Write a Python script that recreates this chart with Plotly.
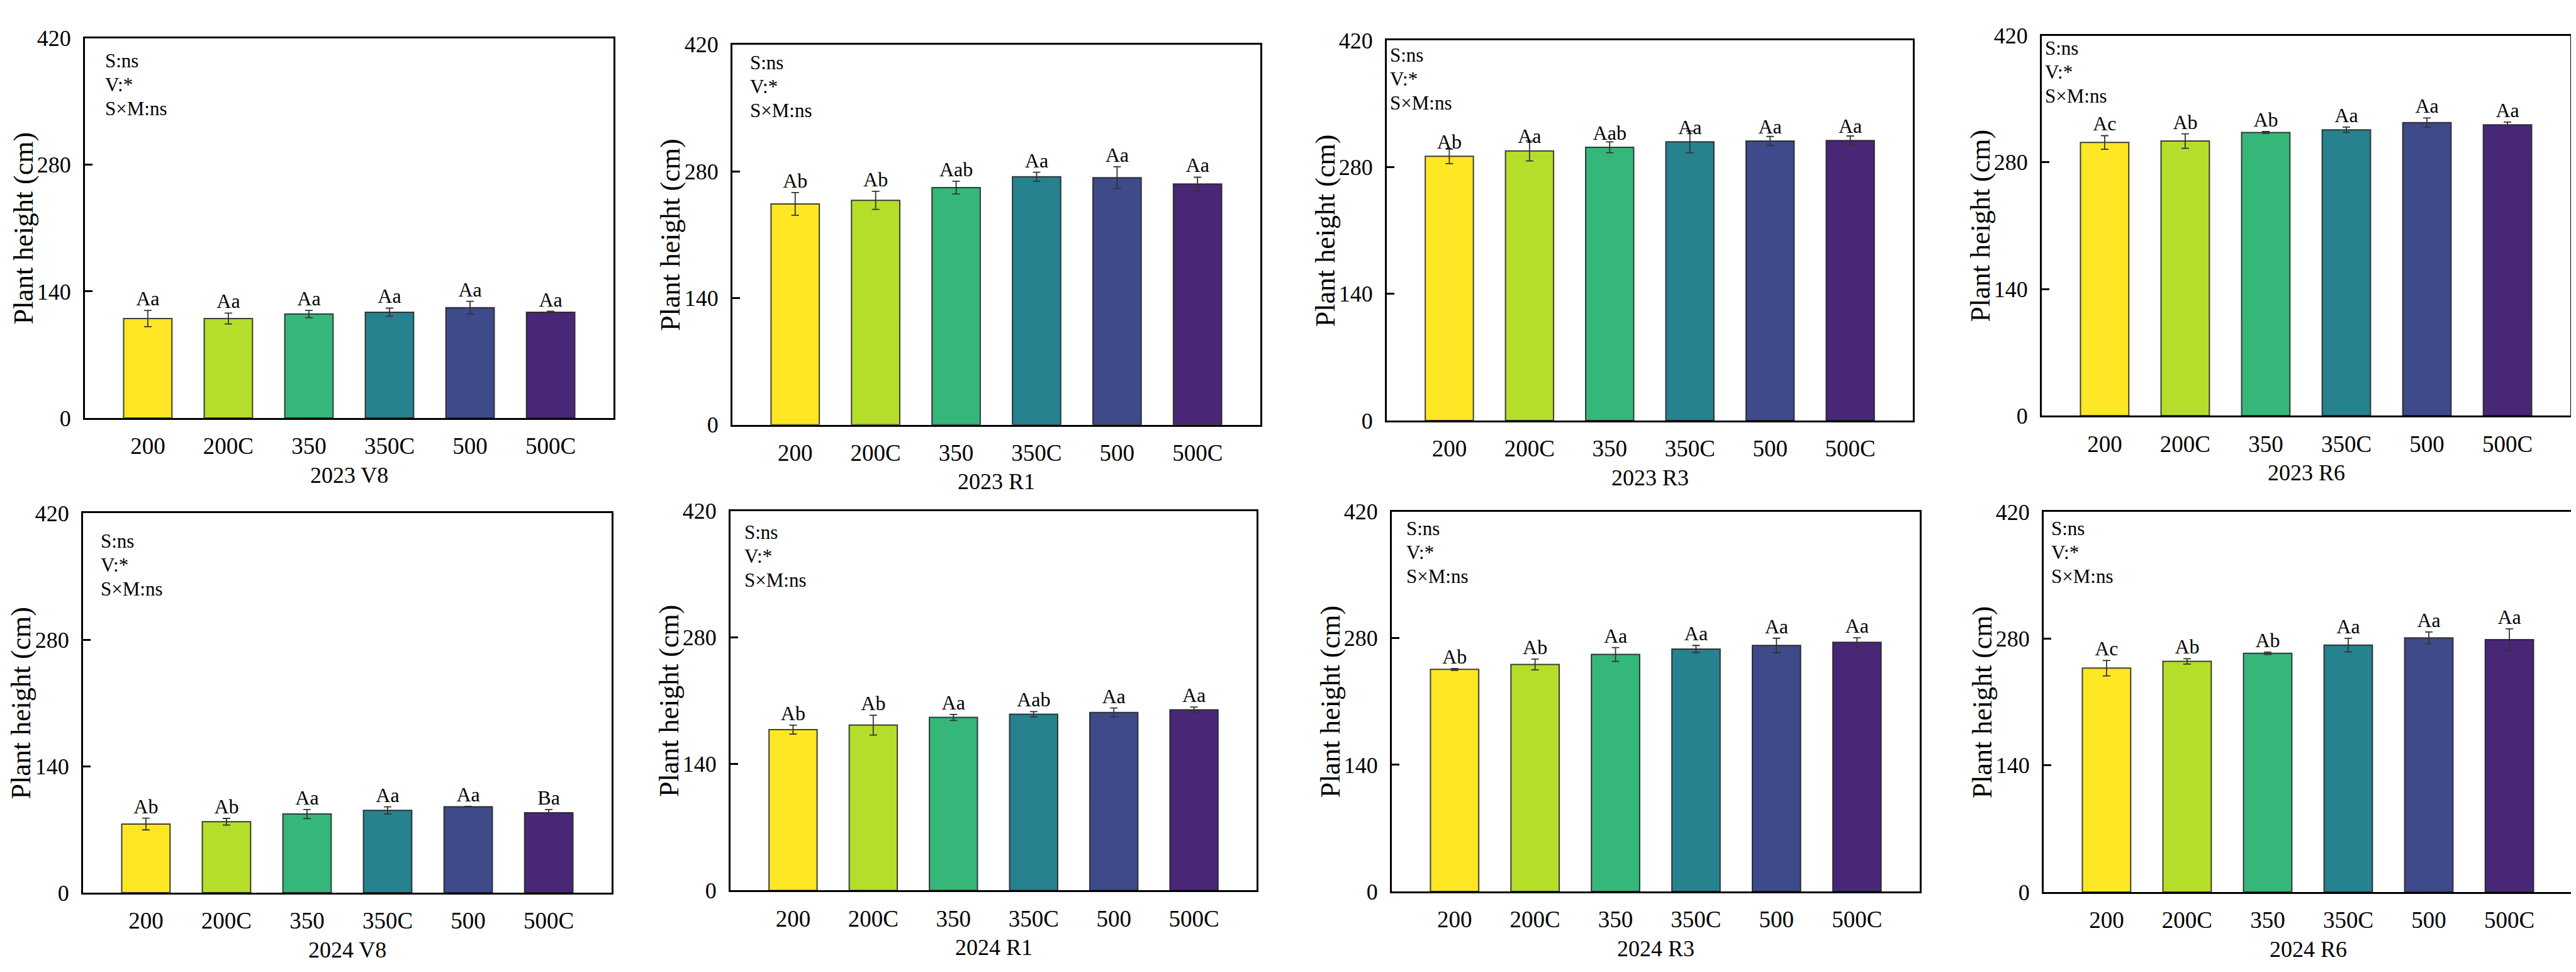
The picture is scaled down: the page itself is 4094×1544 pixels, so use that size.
import plotly.graph_objects as go

# ---------------- data ----------------
categories = ["200", "200C", "350", "350C", "500", "500C"]
bar_colors = ["#FDE725", "#B5DE2B", "#35B779", "#26828E", "#3E4A89", "#482777"]
y_ticks = [0, 140, 280, 420]
stats_lines = ["S:ns", "V:*", "S×M:ns"]

panel_titles = ["2023 V8", "2023 R1", "2023 R3", "2023 R6",
                "2024 V8", "2024 R1", "2024 R3", "2024 R6"]

h_2023_v8 = [110, 110, 115, 117, 122, 117]
e_2023_v8 = [9, 6, 4, 4.5, 7, 1]
l_2023_v8 = ["Aa", "Aa", "Aa", "Aa", "Aa", "Aa"]

h_2023_r1 = [244, 248, 262, 274, 273, 266]
e_2023_r1 = [12.5, 10, 7, 5, 12, 7.5]
l_2023_r1 = ["Ab", "Ab", "Aab", "Aa", "Aa", "Aa"]

h_2023_r3 = [292, 298, 302, 308, 309, 309.5]
e_2023_r3 = [8, 11, 6, 12, 5, 5]
l_2023_r3 = ["Ab", "Aa", "Aab", "Aa", "Aa", "Aa"]

h_2023_r6 = [302, 303.5, 313, 316, 324, 321.5]
e_2023_r6 = [7.5, 8, 1, 3, 5, 3]
l_2023_r6 = ["Ac", "Ab", "Ab", "Aa", "Aa", "Aa"]

h_2024_v8 = [76, 78.5, 87, 91, 95, 88.5]
e_2024_v8 = [6.5, 3.7, 5, 4, 0.5, 3.5]
l_2024_v8 = ["Ab", "Ab", "Aa", "Aa", "Aa", "Ba"]

h_2024_r1 = [178, 183, 191.5, 195, 197, 200]
e_2024_r1 = [5, 11, 3.3, 3, 5, 3]
l_2024_r1 = ["Ab", "Ab", "Aa", "Aab", "Aa", "Aa"]

h_2024_r3 = [245.5, 251, 262, 268, 272, 275.5]
e_2024_r3 = [1, 6, 7.7, 4, 8, 5]
l_2024_r3 = ["Ab", "Ab", "Aa", "Aa", "Aa", "Aa"]

h_2024_r6 = [247.5, 255, 264, 273, 281, 279]
e_2024_r6 = [8.5, 3, 1.3, 7.5, 6.5, 12]
l_2024_r6 = ["Ac", "Ab", "Ab", "Aa", "Aa", "Aa"]

heights = [h_2023_v8, h_2023_r1, h_2023_r3, h_2023_r6,
           h_2024_v8, h_2024_r1, h_2024_r3, h_2024_r6]
errors = [e_2023_v8, e_2023_r1, e_2023_r3, e_2023_r6,
          e_2024_v8, e_2024_r1, e_2024_r3, e_2024_r6]
letters = [l_2023_v8, l_2023_r1, l_2023_r3, l_2023_r6,
           l_2024_v8, l_2024_r1, l_2024_r3, l_2024_r6]

# ---------------- layout geometry (pixels) ----------------
W, H = 4094, 1544
# (left, right, top, bottom) of each plot box
boxes = [(127, 967, 34.5, 654), (1156, 1995, 45, 665),
         (2196, 3032, 38.4, 658), (3237, 4077, 30.5, 650),
         (124, 964, 809, 1428), (1153, 1989, 805.5, 1424.4),
         (2204, 3043, 806.5, 1426), (3240, 4080, 807.4, 1427)]
# stats text offset (dx from left axis, dy of first line from top)
stats_off = [(30, 37), (26, 29), (3, 24), (3, 20),
             (26, 46), (20, 35), (21, 28), (10, 27)]
# label placement mode: True -> above error bar, False -> just above bar top
label_above_err = [True, True, False, True, True, True, True, True]

FONT = "Liberation Serif"

def px(x):
    return x / W

def py(y):
    return 1 - y / H

fig = go.Figure()
annotations = []
layout = {}

for i in range(8):
    n = i + 1
    xa = "x" if n == 1 else f"x{n}"
    ya = "y" if n == 1 else f"y{n}"
    L, R, T, B = boxes[i]
    vals = heights[i]
    errs = errors[i]

    fig.add_trace(go.Bar(
        x=categories, y=vals, xaxis=xa, yaxis=ya, width=0.6,
        marker=dict(color=bar_colors, line=dict(color="rgba(30,30,30,0.85)", width=2)),
        error_y=dict(type="data", array=errs, visible=True, color="#333333",
                     thickness=1.8, width=6),
        showlegend=False, hoverinfo="skip"))

    lab_y = [v + e if label_above_err[i] else v + 3 for v, e in zip(vals, errs)]
    fig.add_trace(go.Scatter(
        x=categories, y=lab_y, xaxis=xa, yaxis=ya, mode="text",
        text=letters[i], textposition="top center",
        textfont=dict(family=FONT, size=32, color="black"),
        showlegend=False, hoverinfo="skip", cliponaxis=False))

    key_x = "xaxis" if n == 1 else f"xaxis{n}"
    key_y = "yaxis" if n == 1 else f"yaxis{n}"
    layout[key_x] = dict(
        domain=[px(L), px(R)], anchor=ya, range=[-0.78, 5.78],
        type="category", showline=True, mirror=True, linecolor="black",
        linewidth=3, ticks="", showgrid=False, zeroline=False,
        tickfont=dict(family=FONT, size=37, color="black"),
        ticklabelstandoff=10)
    layout[key_y] = dict(
        domain=[py(B), py(T)], anchor=xa, range=[0, 420],
        tickvals=y_ticks, showline=True, mirror=True, linecolor="black",
        linewidth=3, ticks="inside", ticklen=12, tickwidth=3,
        tickcolor="black", showgrid=False, zeroline=False,
        tickfont=dict(family=FONT, size=36, color="black"),
        ticklabelstandoff=12)

    # y-axis title
    annotations.append(dict(
        x=px(L - 98), y=py((T + B) / 2), xref="paper", yref="paper",
        text="Plant height (cm)", textangle=-90, showarrow=False,
        xanchor="center", yanchor="middle",
        font=dict(family=FONT, size=44, color="black")))
    # panel title under the x axis
    annotations.append(dict(
        x=px((L + R) / 2), y=py(B + 93), xref="paper", yref="paper",
        text=panel_titles[i], showarrow=False, xanchor="center", yanchor="middle",
        font=dict(family=FONT, size=36, color="black")))
    # statistics text
    dx, dy = stats_off[i]
    for k, line in enumerate(stats_lines):
        annotations.append(dict(
            x=px(L + dx), y=py(T + dy + 39 * k), xref="paper", yref="paper",
            text=line, showarrow=False, xanchor="left", yanchor="middle",
            font=dict(family=FONT, size=31, color="black")))

fig.update_layout(
    width=W, height=H, margin=dict(l=0, r=0, t=0, b=0),
    paper_bgcolor="white", plot_bgcolor="white",
    bargap=0.4, annotations=annotations, **layout)

fig.write_html("out.html")
